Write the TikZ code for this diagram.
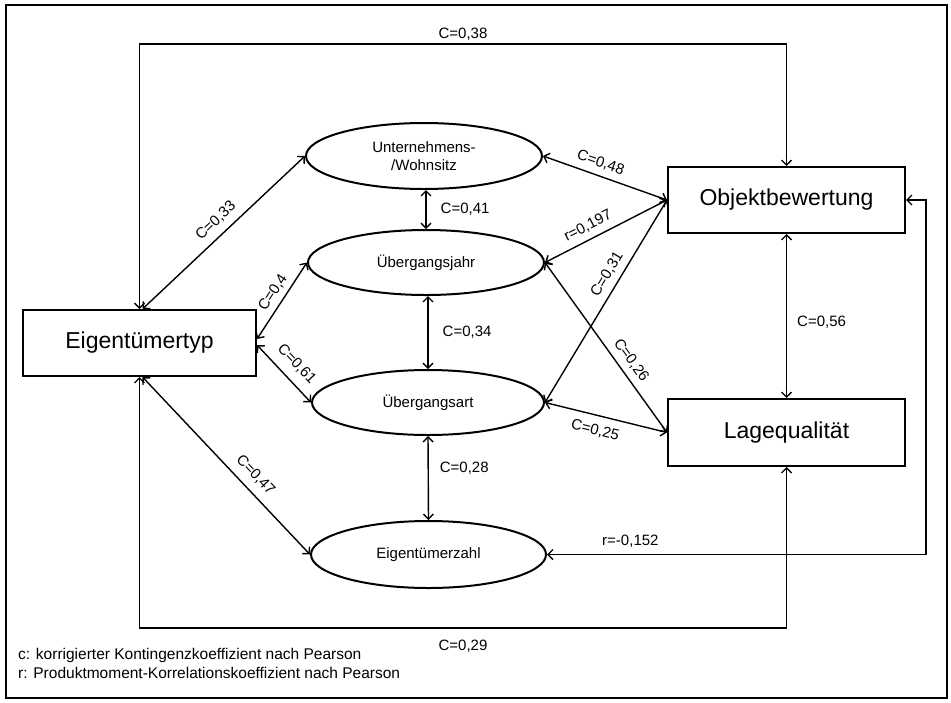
\documentclass[tikz,border=0pt]{standalone}
\usepackage{fontspec}
\setmainfont{Liberation Sans}
\usetikzlibrary{arrows.meta,shapes.geometric}
\begin{document}
\begin{tikzpicture}[x=1pt,y=-1pt,
  var/.style={draw, line width=2pt, rectangle, minimum width=233pt,
    minimum height=66pt, inner sep=0pt, font=\fontsize{23}{27}\selectfont},
  feat/.style={draw, line width=2pt, ellipse, inner sep=0pt,
    font=\fontsize{15}{18}\selectfont, align=center},
  conn/.style={line width=1.4pt,
    {Straight Barb[length=5pt,width=10pt]}-{Straight Barb[length=5pt,width=10pt]}},
  lbl/.style={font=\fontsize{15}{18}\selectfont, inner sep=1pt},
  note/.style={font=\fontsize{15.5}{18}\selectfont, inner sep=0pt, anchor=west}]

\useasboundingbox (0,0) rectangle (951,702);
\draw[line width=1.6pt] (6,5) rectangle (947,698);

% variables
\node[var] (ET) at (139.5,343) {Eigentümertyp};
\node[var, minimum width=237pt] (OB) at (786.5,200) {Objektbewertung};
\node[var, minimum width=237pt, minimum height=67pt] (LQ) at (786.5,432.5) {Lagequalität};

\node[feat, minimum width=236pt, minimum height=66pt] (UW) at (424,156) {Unternehmens-\\/Wohnsitz};
\node[feat, minimum width=236pt, minimum height=65pt] (UJ) at (426,262.5) {Übergangsjahr};
\node[feat, minimum width=232pt, minimum height=65pt] (UA) at (428,402.5) {Übergangsart};
\node[feat, minimum width=235pt, minimum height=67pt] (EZ) at (428.5,554.5) {Eigentümerzahl};

% routing levels of the outer connectors
\coordinate (yTop) at (0,44);
\coordinate (yBot) at (0,628);
\coordinate (xRight) at (926,0);

% outer connectors
\draw[conn] (ET.north) -- (ET.north |- yTop)
  -- node[lbl, above=2pt] {C=0,38} (OB.north |- yTop) -- (OB.north);
\draw[conn] (ET.south) -- (ET.south |- yBot)
  -- node[lbl, below=10pt] {C=0,29} (LQ.south |- yBot) -- (LQ.south);
\draw[conn] (OB.east) -- (OB.east -| xRight) -- (EZ.east -| xRight)
  -- node[lbl, pos=0.78, above=5pt] {r=-0,152} (EZ.east);

% vertical chain
\draw[conn] (UJ.north |- UW.south) -- node[lbl, right=13pt] {C=0,41} (UJ.north);
\draw[conn] (UA.north |- UJ.south) -- node[lbl, right=13pt] {C=0,34} (UA.north);
\draw[conn] (UA.south) -- node[lbl, right=10pt, pos=0.38] {C=0,28} (EZ.north);
\draw[conn] (OB.south) -- node[lbl, right=9pt, pos=0.54] {C=0,56} (LQ.north);

% Eigentuemertyp to the ellipses
\draw[conn] ([xshift=3pt]ET.north) -- node[lbl, sloped, above=6pt, pos=0.51] {C=0,33} (UW.west);
\draw[conn] ([yshift=4pt]ET.east) -- node[lbl, sloped, above=4pt, pos=0.52] {C=0,4} (UJ.west);
\draw[conn] ([yshift=-2pt]ET.east) -- node[lbl, sloped, above=8pt, pos=0.52] {C=0,61} (UA.west);
\draw[conn] ([xshift=3pt]ET.south) -- node[lbl, sloped, above=7pt, pos=0.61] {C=0,47} (EZ.west);

% ellipses to the right-hand variables
\draw[conn] (UW.east) -- node[lbl, sloped, above=5pt, pos=0.43] {C=0,48} (OB.west);
\draw[conn] (UJ.east) -- node[lbl, sloped, above=5pt, pos=0.40] {r=0,197} (OB.west);
\draw[conn] (UA.east) -- node[lbl, sloped, above=5pt, pos=0.60] {C=0,31} (OB.west);
\draw[conn] (UJ.east) -- node[lbl, sloped, above=5pt, pos=0.62] {C=0,26} (LQ.west);
\draw[conn] (UA.east) -- node[lbl, sloped, below=7pt, pos=0.44] {C=0,25} (LQ.west);

% legend
\node[note] (n1) at (18,655) {c: korrigierter Kontingenzkoeffizient nach Pearson};
\node[note] (n2) at (18,673) {r: Produktmoment-Korrelationskoeffizient nach Pearson};
\end{tikzpicture}
\end{document}
